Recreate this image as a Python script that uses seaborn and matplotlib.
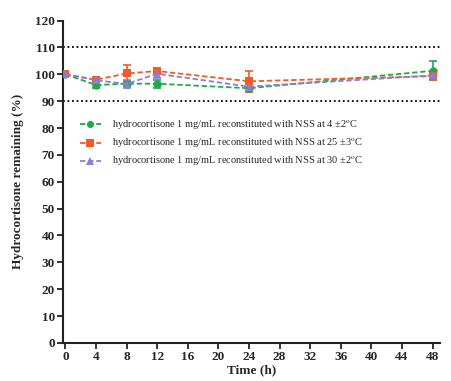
import pandas as pd
import numpy as np
import seaborn as sns
import matplotlib.pyplot as plt

# data
time_h = [0, 4, 8, 12, 24, 48]
green_4c = [100.0, 96.0, 96.5, 96.5, 94.8, 101.3]
green_sd = [0.5, 1.0, 1.0, 1.5, 1.5, 3.5]
orange_25c = [100.0, 98.0, 100.3, 101.2, 97.4, 99.3]
orange_sd = [0.5, 1.0, 3.0, 1.0, 4.0, 1.5]
purple_30c = [100.0, 97.8, 96.4, 100.2, 95.4, 99.6]
purple_sd = [0.5, 1.0, 1.5, 1.5, 1.5, 1.0]

labels = [
    "hydrocortisone 1 mg/mL reconstituted with NSS at 4 \u00b12$^{\\mathrm{o}}$C",
    "hydrocortisone 1 mg/mL reconstituted with NSS at 25 \u00b13$^{\\mathrm{o}}$C",
    "hydrocortisone 1 mg/mL reconstituted with NSS at 30 \u00b12$^{\\mathrm{o}}$C",
]
colors = ["#22a84a", "#f25a2a", "#8a80d2"]
markers = ["o", "s", "^"]

df = pd.concat([
    pd.DataFrame({"time": time_h, "value": v, "sd": s, "group": lab})
    for v, s, lab in zip([green_4c, orange_25c, purple_30c],
                         [green_sd, orange_sd, purple_sd], labels)
])

sns.set_style("ticks")
plt.rcParams["font.family"] = ["Liberation Serif", "DejaVu Serif"]
plt.rcParams["mathtext.fontset"] = "stix"

fig = plt.figure(figsize=(4.51, 3.81), dpi=100)
ax = fig.add_axes([0.14, 0.1, 0.836, 0.846])

ax.axhline(110, color="black", ls=(0, (1, 1.5)), lw=1.3, zorder=1)
ax.axhline(90, color="black", ls=(0, (1, 1.5)), lw=1.3, zorder=1)

for lab, c in zip(labels, colors):
    sub = df[df["group"] == lab]
    ax.errorbar(sub["time"], sub["value"], yerr=sub["sd"], fmt="none",
                ecolor=c, elinewidth=1.2, capsize=3, capthick=1.2, zorder=2)

sns.lineplot(data=df, x="time", y="value", hue="group", style="group",
             hue_order=labels, style_order=labels, palette=colors,
             markers=markers, dashes=[(3, 1.5)] * 3, markersize=6,
             markeredgewidth=0, lw=1.3, ax=ax, zorder=3)

ax.set_xlim(-0.3, 49)
ax.set_ylim(0, 120)
ax.set_xticks(np.arange(0, 49, 4))
ax.set_yticks(np.arange(0, 121, 10))
ax.set_xlabel("Time (h)", fontsize=9.5, fontweight="bold", labelpad=1)
ax.set_ylabel("Hydrocortisone remaining (%)", fontsize=9.5, fontweight="bold", labelpad=8)
for t in ax.get_xticklabels() + ax.get_yticklabels():
    t.set_fontweight("bold")
ax.tick_params(labelsize=9.5, width=1.3, length=4, pad=2, color="#222222")
sns.despine(ax=ax)
for sp in ["left", "bottom"]:
    ax.spines[sp].set_linewidth(1.5)
    ax.spines[sp].set_color("#222222")

handles, labs = ax.get_legend_handles_labels()
ax.legend(handles, labs, loc="upper left", bbox_to_anchor=(0.02, 0.725),
          frameon=False, fontsize=7.5, handlelength=2.0, handletextpad=1.1,
          labelspacing=0.45, markerscale=0.85)

fig.savefig("out.png", dpi=100)
